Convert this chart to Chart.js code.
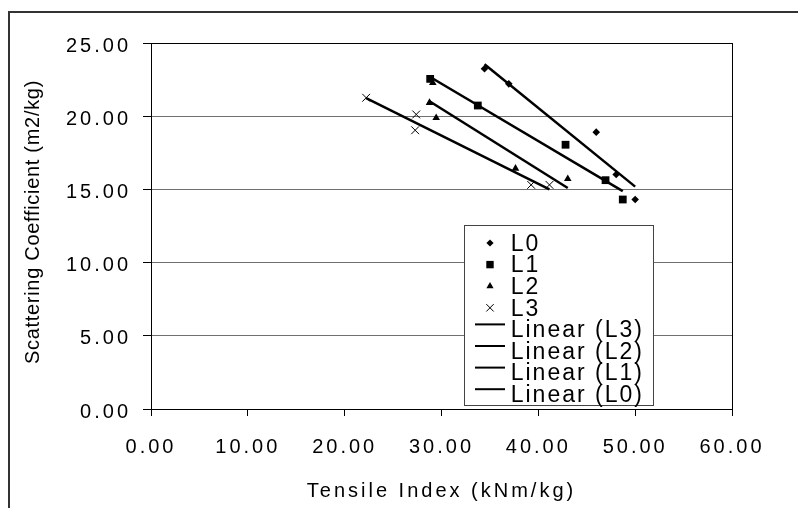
<!DOCTYPE html>
<html>
<head>
<meta charset="utf-8">
<script src="https://cdn.jsdelivr.net/npm/chart.js@4.4.0/dist/chart.umd.min.js"></script>
<style>
  html, body { margin: 0; padding: 0; background: #fff; overflow: hidden; }
  #wrap { position: relative; width: 798px; height: 508px; }
  #frame { position: absolute; left: 8px; top: 11px; width: 900px; height: 600px; border: 2px solid #333; box-sizing: border-box; pointer-events: none; }
</style>
</head>
<body>
<div id="wrap"><canvas id="chart"></canvas><div id="frame"></div></div>
<script>
// values
const l0X = [34.44, 36.95, 45.98, 48.04, 50.00];
const l0Y = [23.24, 22.21, 18.91, 16.02, 14.31];
const l1X = [28.83, 33.75, 42.81, 46.94, 48.72];
const l1Y = [22.55, 20.73, 18.05, 15.63, 14.31];
const l2X = [29.10, 28.76, 29.45, 37.64, 43.04];
const l2Y = [22.28, 20.92, 19.89, 16.43, 15.72];
const l3X = [22.22, 27.39, 27.28, 39.26, 41.15];
const l3Y = [21.26, 20.12, 19.04, 15.31, 15.31];

// trend line end points (Linear fits as drawn)
const trendL3X = [22.22, 41.15];
const trendL3Y = [21.24, 15.00];
const trendL2X = [28.76, 43.04];
const trendL2Y = [21.02, 15.10];
const trendL1X = [28.83, 48.72];
const trendL1Y = [22.68, 14.88];
const trendL0X = [34.44, 50.00];
const trendL0Y = [23.55, 15.19];

const xMin = 0, xMax = 60, xStep = 10;
const yMin = 0, yMax = 25, yStep = 5;
const xTitle = 'Tensile Index (kNm/kg)';
const yTitle = 'Scattering Coefficient (m2/kg)';

const FONT = "'Liberation Sans', Arial, sans-serif";
Chart.defaults.font.family = FONT;
Chart.defaults.color = '#000';

const pts = (xs, ys) => xs.map((x, i) => ({ x, y: ys[i] }));

function markerSet(label, xs, ys, style, r, bw) {
  return {
    label, data: pts(xs, ys), showLine: false,
    pointStyle: style, pointRadius: r, pointHoverRadius: r,
    pointBackgroundColor: '#000', pointBorderColor: '#000', pointBorderWidth: bw
  };
}
function trendSet(label, xs, ys) {
  return {
    label, data: pts(xs, ys), showLine: true, fill: false,
    borderColor: '#000', borderWidth: 2.5, pointRadius: 0, pointHoverRadius: 0
  };
}

const spacingPlugin = {
  id: 'spacing',
  beforeDraw(chart) { chart.ctx.letterSpacing = '3px'; }
};

const yTitlePlugin = {
  id: 'yTitle',
  afterDraw(chart) {
    const ctx = chart.ctx;
    ctx.save();
    ctx.letterSpacing = '0.7px';
    ctx.font = '20px ' + FONT;
    ctx.fillStyle = '#000';
    ctx.translate(33, 222);
    ctx.rotate(-Math.PI / 2);
    ctx.textAlign = 'center';
    ctx.textBaseline = 'middle';
    ctx.fillText(yTitle, 0, 0);
    ctx.restore();
  }
};

const boxLegend = {
  id: 'boxLegend',
  afterDraw(chart) {
    const ctx = chart.ctx;
    const x0 = 464, y0 = 225, x1 = 653, y1 = 405;
    ctx.save();
    ctx.fillStyle = '#fff';
    ctx.fillRect(x0, y0, x1 - x0, y1 - y0);
    ctx.strokeStyle = '#444';
    ctx.lineWidth = 1;
    ctx.strokeRect(x0 + 0.5, y0 + 0.5, x1 - x0, y1 - y0);
    ctx.letterSpacing = '2px';
    ctx.font = '23px ' + FONT;
    ctx.textAlign = 'left';
    ctx.textBaseline = 'middle';
    chart.data.datasets.forEach((ds, i) => {
      const y = 244.5 + i * 21.6;
      ctx.fillStyle = '#000';
      ctx.strokeStyle = '#000';
      if (ds.showLine) {
        ctx.lineWidth = 2;
        ctx.beginPath();
        ctx.moveTo(475, y - 6.5);
        ctx.lineTo(505, y - 6.5);
        ctx.stroke();
      } else {
        ctx.lineWidth = ds.pointBorderWidth;
        Chart.helpers.drawPoint(ctx, {
          pointStyle: ds.pointStyle, radius: ds.pointRadius * 0.95,
          rotation: 0, borderWidth: ds.pointBorderWidth
        }, 490, y - 1.5);
      }
      ctx.fillText(ds.label, 510.7, y);
    });
    ctx.restore();
  }
};

new Chart(document.getElementById('chart'), {
  type: 'scatter',
  data: {
    datasets: [
      markerSet('L0', l0X, l0Y, 'rectRot', 3.8, 0),
      markerSet('L1', l1X, l1Y, 'rect', 5.5, 0),
      markerSet('L2', l2X, l2Y, 'triangle', 4.4, 0),
      markerSet('L3', l3X, l3Y, 'crossRot', 5.5, 1),
      trendSet('Linear (L3)', trendL3X, trendL3Y),
      trendSet('Linear (L2)', trendL2X, trendL2Y),
      trendSet('Linear (L1)', trendL1X, trendL1Y),
      trendSet('Linear (L0)', trendL0X, trendL0Y)
    ]
  },
  options: {
    responsive: true, maintainAspectRatio: false,
    animation: false, events: [],
    layout: { padding: { left: 0, top: 43, right: 66, bottom: 0 } },
    plugins: { legend: { display: false }, tooltip: { enabled: false } },
    scales: {
      x: {
        type: 'linear', position: 'bottom', min: xMin, max: xMax,
        afterFit: s => { s.height = 99; },
        ticks: { stepSize: xStep, callback: v => v.toFixed(2), font: { size: 20 }, color: '#000',
                 padding: 19, maxRotation: 0, minRotation: 0, autoSkip: false },
        grid: { color: c => (c.tick && c.tick.value === xMax) ? '#000' : 'rgba(0,0,0,0)',
                tickColor: '#000', tickLength: 7, lineWidth: 1 },
        border: { color: '#000', width: 1 },
        title: { display: true, text: xTitle, font: { size: 20 }, color: '#000', padding: { top: 0, bottom: 5 } }
      },
      y: {
        type: 'linear', position: 'left', min: yMin, max: yMax,
        afterFit: s => { s.width = 151; },
        ticks: { stepSize: yStep, callback: v => v.toFixed(2), font: { size: 20 }, color: '#000',
                 padding: 12, labelOffset: 3 },
        grid: { color: c => !c.tick ? 'rgba(0,0,0,0)' : c.tick.value === yMax ? '#000' : c.tick.value === yMin ? 'rgba(0,0,0,0)' : '#707070',
                tickColor: '#000', tickLength: 8, lineWidth: 1 },
        border: { color: '#000', width: 1 }
      }
    }
  },
  plugins: [spacingPlugin, yTitlePlugin, boxLegend]
});
</script>
</body>
</html>
